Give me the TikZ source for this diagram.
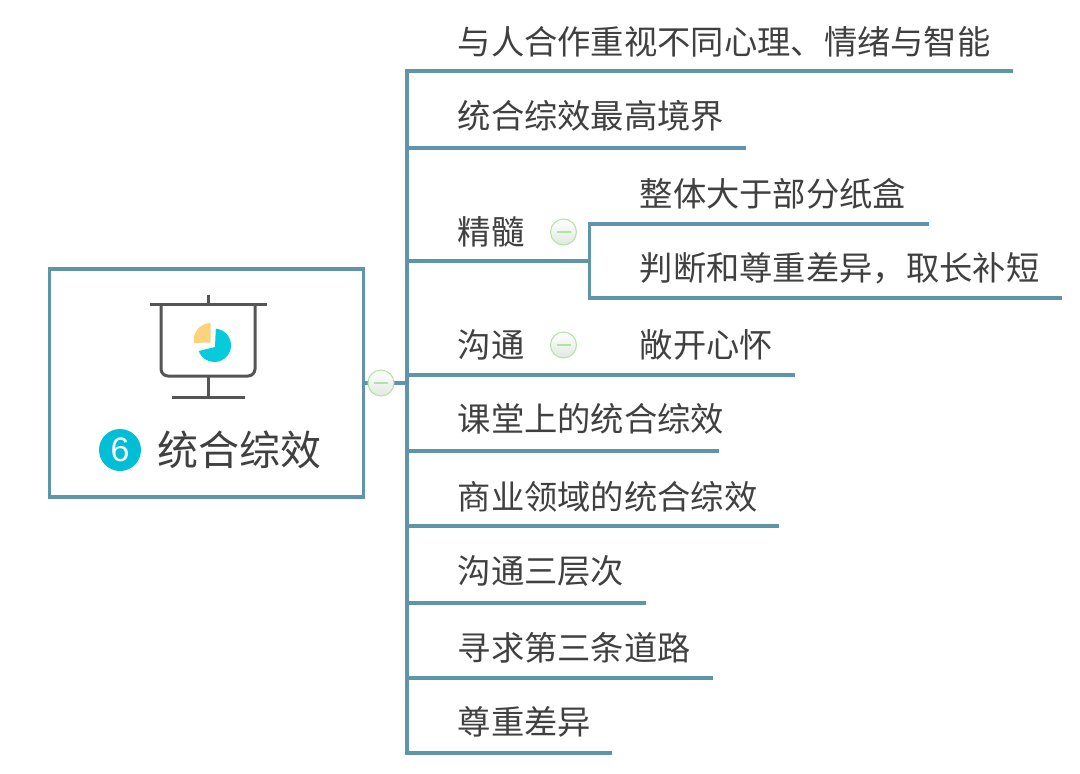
\documentclass[tikz,border=0pt]{standalone}
\usepackage{fontspec}
\newfontfamily\cjk{Noto Sans CJK SC}
\setsansfont{Liberation Sans}
\usetikzlibrary{positioning}
\definecolor{linecolor}{HTML}{5F95AB}
\definecolor{textcolor}{HTML}{404040}
\definecolor{iconcolor}{HTML}{555555}
\definecolor{piecyan}{HTML}{05CBDB}
\definecolor{pieorange}{HTML}{FDD27E}
\definecolor{badgecolor}{HTML}{00BED6}
\definecolor{btngreen}{HTML}{B2E2A4}
\tikzset{
    topic/.style={anchor=west, inner sep=0pt, text=textcolor, text height=28pt, text depth=5pt,
        font=\cjk\fontsize{33.3}{33.3}\selectfont},
    branch/.style={draw=linecolor, line width=3.2pt, line cap=rect},
    icon/.style={draw=iconcolor, line width=3pt},
    toggle/.style={circle, minimum size=26pt, inner sep=0pt, draw=btngreen, line width=1pt,
        top color=white, bottom color=green!25!black!12},
    toggledash/.style={draw=btngreen, line width=1.5pt}
}
\begin{document}
\begin{tikzpicture}[x=1pt, y=-1pt]
        \useasboundingbox (0,0) rectangle (1080,774);
        % root box
        \node [draw=linecolor, line width=3.2pt, minimum width=314pt, minimum height=228pt,
            inner sep=0pt] (root) at (206.5,383) {};
        \node [topic, font=\cjk\fontsize{41}{41}\selectfont, text height=34pt, text depth=6pt] (rootlabel) at (157.5,451) {统合综效};
        \node [circle, fill=badgecolor, minimum size=42pt, inner sep=0pt, text=white,
            font=\sffamily\fontsize{34}{34}\selectfont] (badge) at (120,450) {6};
        % screen icon
        \draw [icon] (208,295) -- (208,304);
        \draw [icon] (150,304) -- (267,304);
        \draw [icon, rounded corners=7pt] (161,304) -- (161,376) -- (255,376) -- (255,304);
        \draw [icon] (208,376) -- (208,397);
        \draw [icon] (172,397) -- (245,397);
        \fill [piecyan] (215,347) -- (215.8,328.7) arc (-85:160:16.7) -- cycle;
        \fill [pieorange] (210.7,342.5) -- (210.7,323) arc (-90:-190:17) -- cycle;
        % main branches
        \coordinate (trunktop) at (407,71);
        \coordinate (trunkbottom) at (407,753);
        \coordinate (trunkmid) at (407,383);
        \draw [branch] (trunktop) -- (trunkbottom);
        \node [topic] (topic1) at (457.5,43) {与人合作重视不同心理、情绪与智能};
        \node [topic] (topic2) at (457.5,117) {统合综效最高境界};
        \node [topic] (topic3) at (457.5,233) {精髓};
        \node [topic] (topic4) at (457.5,346) {沟通};
        \node [topic] (topic5) at (457.5,420) {课堂上的统合综效};
        \node [topic] (topic6) at (457.5,498) {商业领域的统合综效};
        \node [topic] (topic7) at (457.5,572) {沟通三层次};
        \node [topic] (topic8) at (457.5,649) {寻求第三条道路};
        \node [topic] (topic9) at (457.5,723) {尊重差异};
        \node [topic] (sub1) at (639.5,195) {整体大于部分纸盒};
        \node [topic] (sub2) at (639.5,269) {判断和尊重差异，取长补短};
        \node [topic] (sub3) at (639.5,346) {敞开心怀};
        % underlines
        \coordinate (end1) at (1011.5,71);
        \coordinate (end2) at (744.5,148);
        \coordinate (fork) at (589.5,261);
        \coordinate (end4) at (793.5,375);
        \coordinate (end5) at (717.5,451);
        \coordinate (end6) at (777.5,526);
        \coordinate (end7) at (644.5,603);
        \coordinate (end8) at (711.5,678);
        \coordinate (end9) at (610.5,753);
        \draw [branch] (trunktop) -- (end1);
        \draw [branch] (trunktop |- end2) -- (end2);
        \draw [branch] (trunktop |- fork) -- (fork);
        \draw [branch] (trunktop |- end4) -- (end4);
        \draw [branch] (trunktop |- end5) -- (end5);
        \draw [branch] (trunktop |- end6) -- (end6);
        \draw [branch] (trunktop |- end7) -- (end7);
        \draw [branch] (trunktop |- end8) -- (end8);
        \draw [branch] (trunktop |- end9) -- (end9);
        % sub branches
        \coordinate (subend1) at (927,224);
        \coordinate (subend2) at (1060.5,298);
        \draw [branch] (subend1) -| (fork |- subend2) -- (subend2);
        % root link and toggles
        \draw [branch] (root.east |- trunkmid) -- (trunkmid);
        \node [toggle] (toggle1) at (381,383) {};
        \node [toggle] (toggle2) at (563.5,232) {};
        \node [toggle] (toggle3) at (563.5,345) {};
        \draw [toggledash] (374,383) -- (388,383);
        \draw [toggledash] (556.5,232) -- (570.5,232);
        \draw [toggledash] (556.5,345) -- (570.5,345);
\end{tikzpicture}
\end{document}
